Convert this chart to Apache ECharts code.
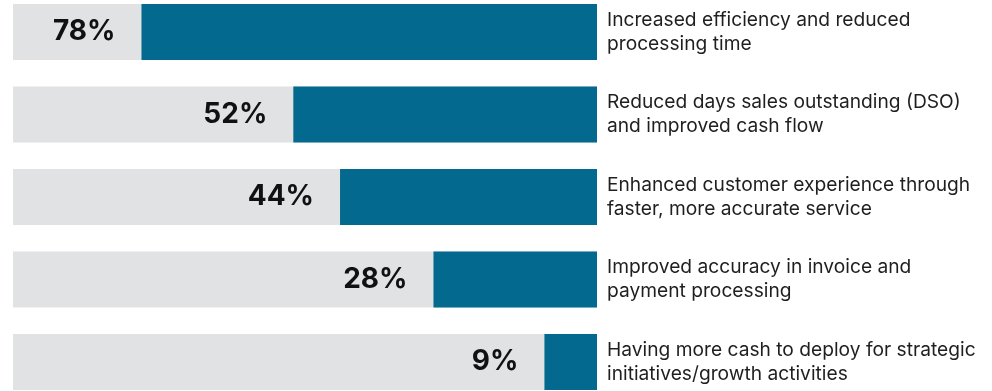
<!DOCTYPE html>
<html>
<head>
<meta charset="utf-8">
<script src="https://cdn.jsdelivr.net/npm/echarts@6/dist/echarts.min.js"></script>
<style>
  html, body { margin: 0; padding: 0; background: #ffffff; }
  #chart { width: 992px; height: 391px; }
</style>
</head>
<body>
<div id="chart"></div>
<script>
// Benefits reported, share of respondents (%)
const benefitLines = [
  ['Increased efficiency and reduced', 'processing time'],
  ['Reduced days sales outstanding (DSO)', 'and improved cash flow'],
  ['Enhanced customer experience through', 'faster, more accurate service'],
  ['Improved accuracy in invoice and', 'payment processing'],
  ['Having more cash to deploy for strategic', 'initiatives/growth activities']
];
const shareValues = [78, 52, 44, 28, 9];

const categories = benefitLines.map(l => l.join('\n'));

const chart = echarts.init(document.getElementById('chart'), null, { renderer: 'canvas' });

chart.setOption({
  animation: false,
  backgroundColor: '#ffffff',
  // category ticks sit on the bar centres (boundaryGap off)
  grid: { left: 13, right: 395, top: 32, height: 333, containLabel: false },
  xAxis: {
    type: 'value',
    min: 0,
    max: 100,
    inverse: true,
    show: false
  },
  yAxis: {
    type: 'category',
    data: categories,
    inverse: true,
    boundaryGap: false,
    position: 'right',
    axisLine: { show: false },
    axisTick: { show: false },
    splitLine: { show: false },
    axisLabel: {
      margin: 10,
      align: 'left',
      color: '#1f1f1f',
      fontFamily: 'Inter, "Noto Sans", sans-serif',
      fontSize: 19.2,
      lineHeight: 24,
      padding: [0, 0, 10, 0]
    }
  },
  series: [{
    type: 'bar',
    data: shareValues,
    barWidth: 56,
    showBackground: true,
    backgroundStyle: { color: '#e1e2e4' },
    itemStyle: { color: '#04698f' },
    label: {
      show: true,
      position: 'left',
      distance: 26,
      formatter: p => p.value + '%',
      color: '#111111',
      fontFamily: 'Inter, "Noto Sans", sans-serif',
      fontWeight: 'bold',
      fontSize: 28,
      padding: [6, 0, 0, 0]
    }
  }]
});
</script>
</body>
</html>
